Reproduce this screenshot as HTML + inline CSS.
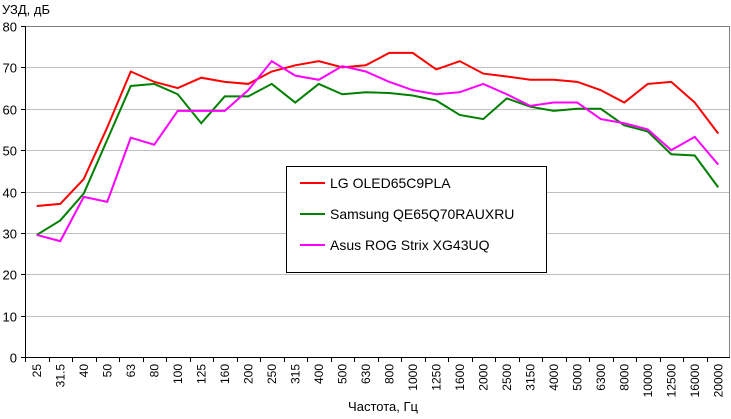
<!DOCTYPE html>
<html><head><meta charset="utf-8"><style>
body{margin:0;background:#fff}
svg text{font-family:"Liberation Sans",Arial,sans-serif;fill:#000}
</style></head><body>
<svg width="731" height="414" xmlns="http://www.w3.org/2000/svg">
<g id="grid"></g><g id="axes"></g><g id="series"></g>
<text x="2" y="14" font-size="13">УЗД, дБ</text>
<text x="383" y="411" font-size="13" text-anchor="middle">Частота, Гц</text>
<g>
<rect x="286.5" y="166.5" width="260" height="106" fill="#fff" stroke="#000"/>
<line x1="300" y1="183" x2="325" y2="183" stroke="#ff0000" stroke-width="2"/>
<text x="330" y="188" font-size="14">LG OLED65C9PLA</text>
<line x1="300" y1="214" x2="325" y2="214" stroke="#008000" stroke-width="2"/>
<text x="330" y="219" font-size="14">Samsung QE65Q70RAUXRU</text>
<line x1="300" y1="245" x2="325" y2="245" stroke="#ff00ff" stroke-width="2"/>
<text x="330" y="250" font-size="14">Asus ROG Strix XG43UQ</text>
</g>
</svg>
<script>
const categories=["25","31.5","40","50","63","80","100","125","160","200","250","315","400","500","630","800","1000","1250","1600","2000","2500","3150","4000","5000","6300","8000","10000","12500","16000","20000"];
const lgValues=[36.5,37,43,55.5,69,66.5,65,67.5,66.5,66,69,70.5,71.5,70,70.5,73.5,73.5,69.5,71.5,68.5,67.8,67,67,66.5,64.5,61.5,66,66.5,61.5,54];
const samsungValues=[29.5,33,39.5,52.5,65.5,66,63.5,56.5,63,63,66,61.5,66,63.5,64,63.8,63.2,62,58.5,57.5,62.5,60.5,59.5,60,60,56,54.5,49,48.7,41];
const asusValues=[29.5,28,38.7,37.5,53,51.3,59.5,59.5,59.5,64.5,71.5,68,67,70.3,69,66.5,64.5,63.5,64,66,63.5,60.7,61.5,61.5,57.5,56.5,55,50,53.2,46.5];
const yTicks=[0,10,20,30,40,50,60,70,80];
const NS="http://www.w3.org/2000/svg";
const L=25,R=730,T=26,B=357,yMax=80;
const bw=(R-L)/categories.length;
const xS=i=>L+bw*(i+0.5);
const yS=v=>B-(v/yMax)*(B-T);
function mk(tag,attrs,parent){const e=document.createElementNS(NS,tag);for(const k in attrs)e.setAttribute(k,attrs[k]);document.getElementById(parent).appendChild(e);return e;}
yTicks.forEach(v=>{
 const y=Math.round(yS(v))+0.5;
 if(v>0){const g=mk('line',{x1:L,x2:R,y1:y,y2:y,stroke:'#c0c0c0'},'grid');
 
 }
 const t=mk('line',{x1:L-4,x2:L,y1:y,y2:y,stroke:'#000'},'axes');
 
 
 const lb=mk('text',{x:L-8,y:y+5,'font-size':13,'text-anchor':'end'},'axes');
 lb.textContent=v;
 
 
});
const topBorder=mk('line',{x1:L,x2:R,y1:T+0.5,y2:T+0.5,stroke:'#808080'},'grid');


const rightBorder=mk('line',{x1:R-0.5,x2:R-0.5,y1:T,y2:B,stroke:'#808080'},'grid');


const yAxisLine=mk('line',{x1:L+0.5,x2:L+0.5,y1:T,y2:B,stroke:'#000'},'axes');


const xAxisLine=mk('line',{x1:L,x2:R,y1:B+0.5,y2:B+0.5,stroke:'#000'},'axes');


categories.forEach((c,i)=>{
 const x=Math.round(L+bw*i)+0.5;
 const t=mk('line',{x1:x,x2:x,y1:B,y2:B+5,stroke:'#000'},'axes');
 
 
 const cx=xS(i)+4;
 const lb=mk('text',{x:cx,y:364,'font-size':12,'text-anchor':'end',transform:`rotate(-90 ${cx} 364)`},'axes');
 lb.textContent=c;
 
 
});
[[lgValues,'#ff0000','series-lg'],[samsungValues,'#008000','series-samsung'],[asusValues,'#ff00ff','series-asus']].forEach(([vals,col,name])=>{
 const p=mk('polyline',{points:vals.map((v,i)=>xS(i)+','+yS(v)).join(' '),fill:'none',stroke:col,'stroke-width':2},'series');
 
 
});
</script>
</body></html>
